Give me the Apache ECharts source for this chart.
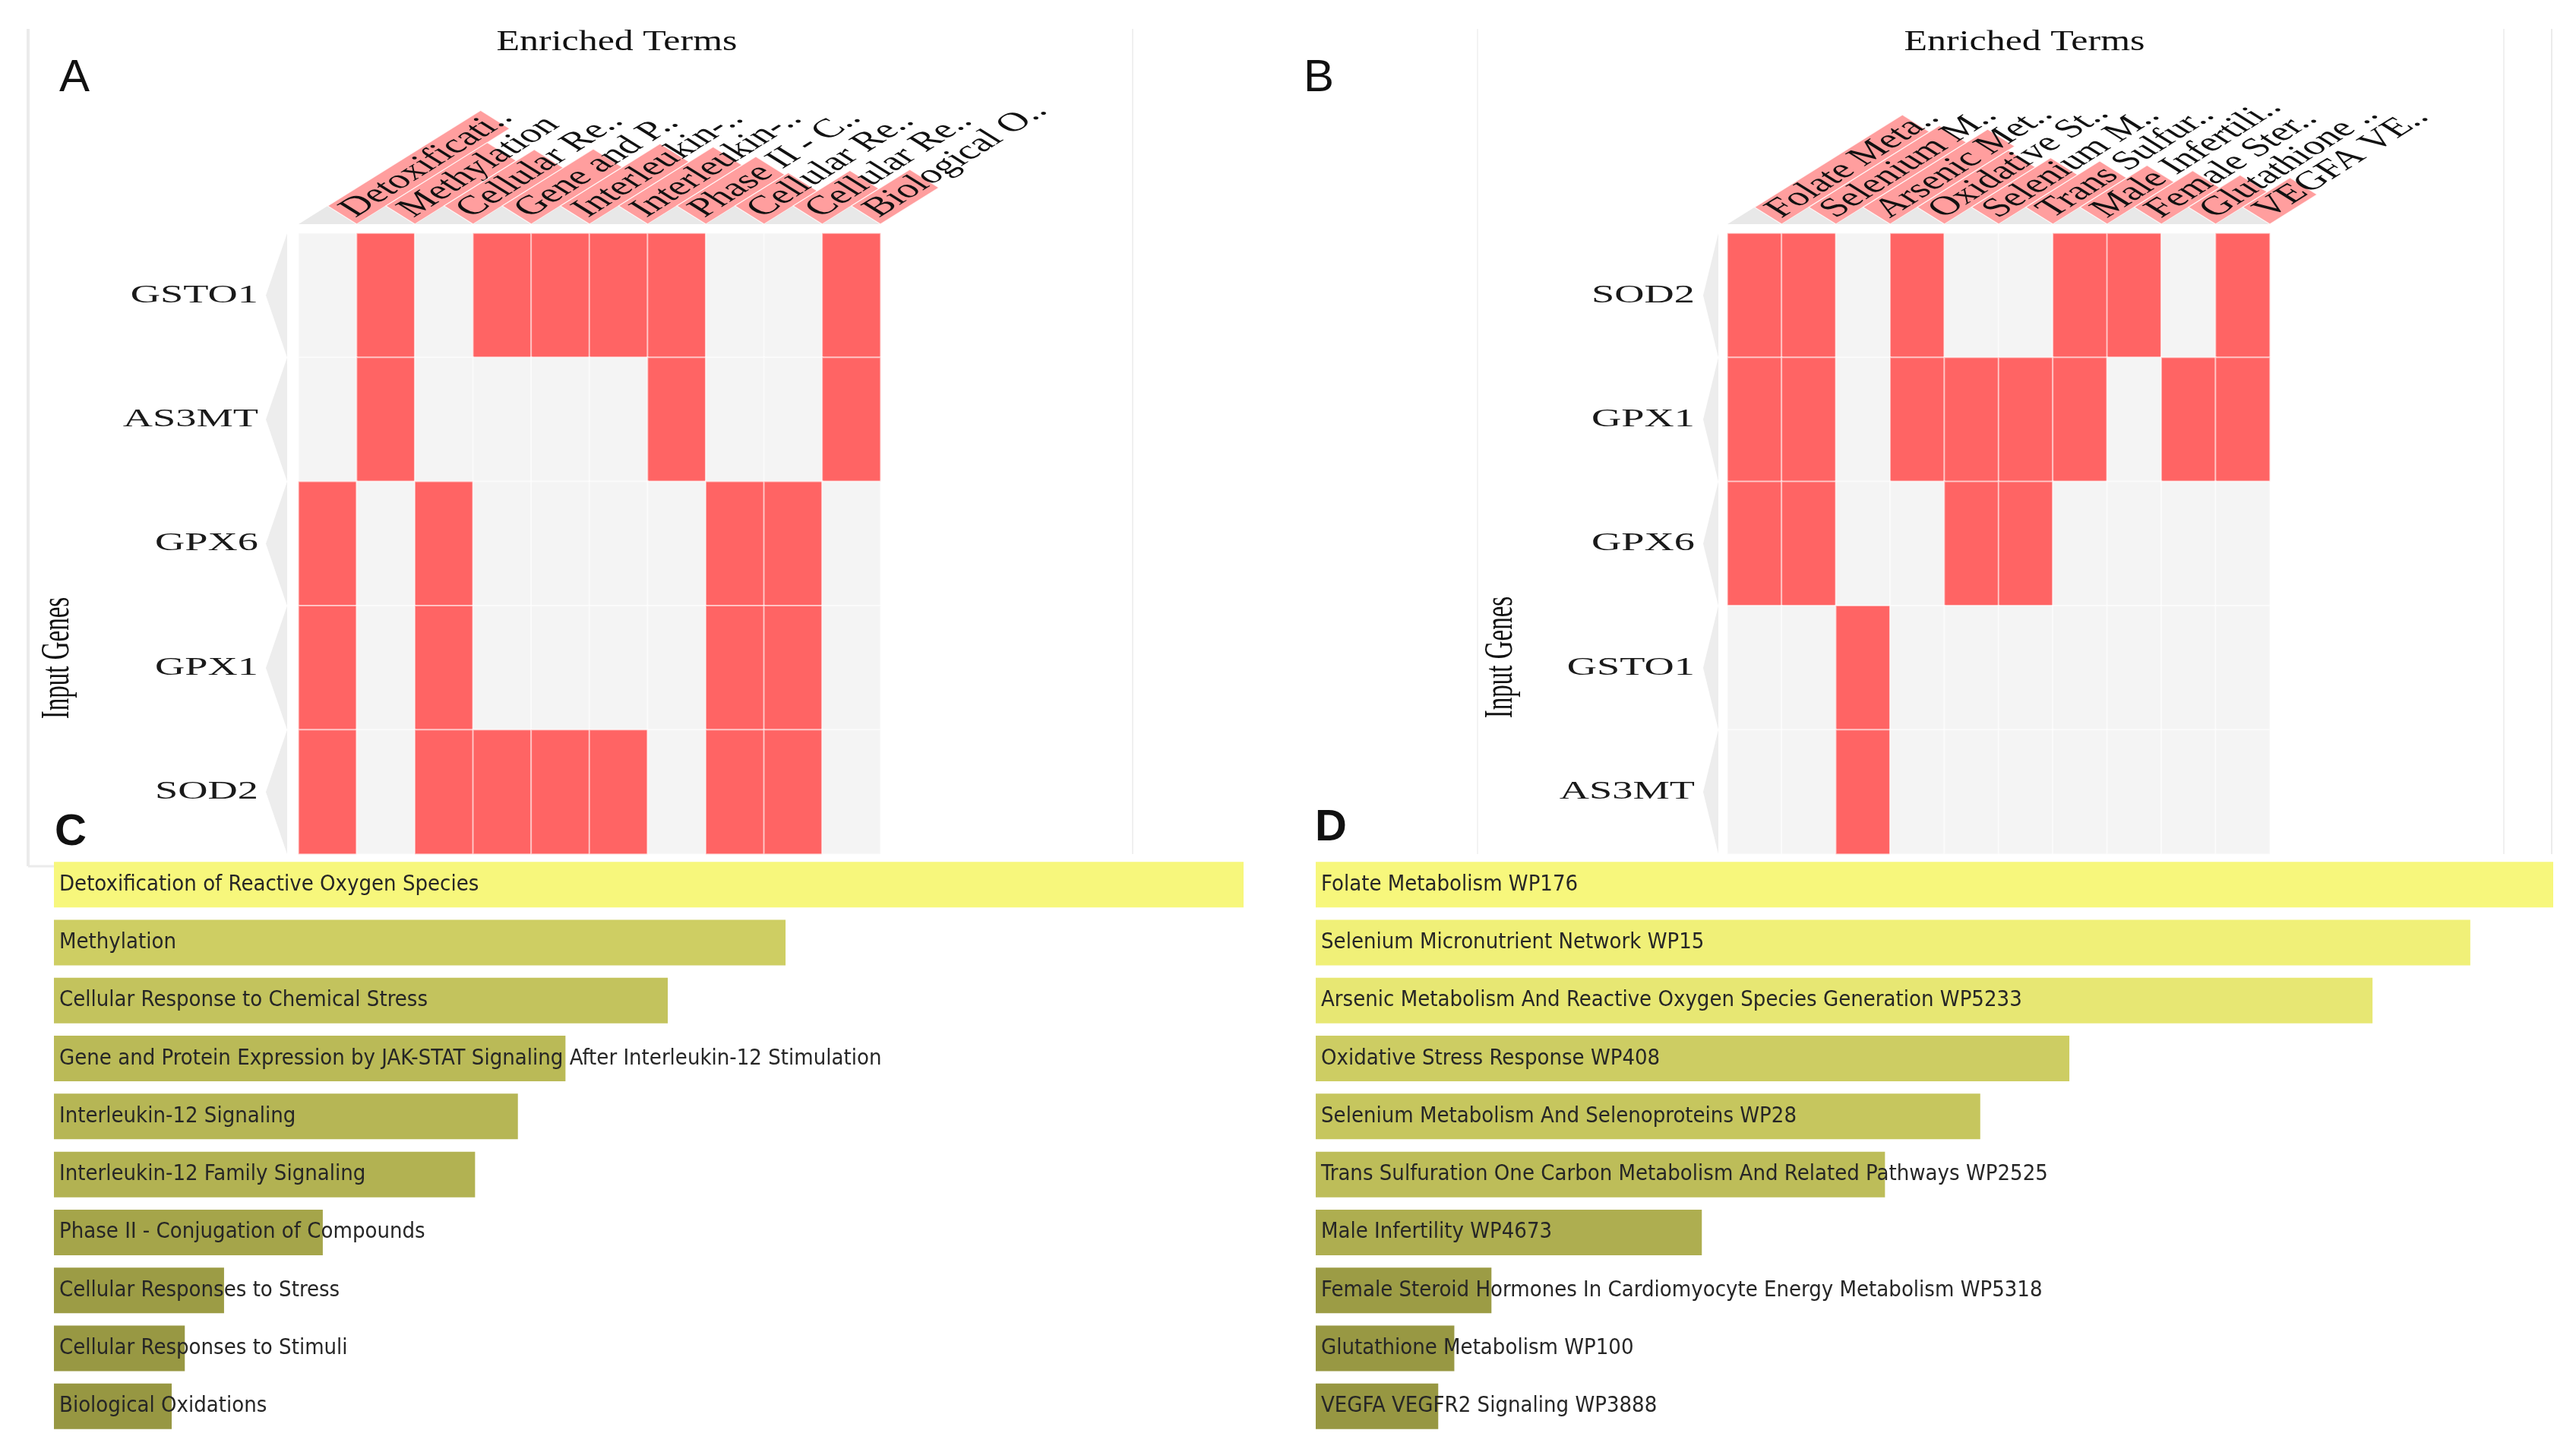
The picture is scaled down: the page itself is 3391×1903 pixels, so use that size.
<!DOCTYPE html>
<html><head><meta charset="utf-8">
<script src="https://cdn.jsdelivr.net/npm/echarts@6/dist/echarts.min.js"></script>
<style>html,body{margin:0;padding:0;background:#fff}#c{width:3391px;height:1903px}</style>
</head><body><div id="c"></div><script>
// ---------- data ----------
const genesA = ['GSTO1', 'AS3MT', 'GPX6', 'GPX1', 'SOD2'];
const termsA = ['Detoxification of Reactive Oxygen Species', 'Methylation', 'Cellular Response to Chemical Stress',
  'Gene and Protein Expression by JAK-STAT Signaling After Interleukin-12 Stimulation', 'Interleukin-12 Signaling',
  'Interleukin-12 Family Signaling', 'Phase II - Conjugation of Compounds', 'Cellular Responses to Stress',
  'Cellular Responses to Stimuli', 'Biological Oxidations'];
const headA = ['Detoxificati..', 'Methylation', 'Cellular Re..', 'Gene and P..', 'Interleukin-..', 'Interleukin-..',
  'Phase II - C..', 'Cellular Re..', 'Cellular Re..', 'Biological O..'];
const hitsA = [
  [0, 1, 0, 1, 1, 1, 1, 0, 0, 1],
  [0, 1, 0, 0, 0, 0, 1, 0, 0, 1],
  [1, 0, 1, 0, 0, 0, 0, 1, 1, 0],
  [1, 0, 1, 0, 0, 0, 0, 1, 1, 0],
  [1, 0, 1, 1, 1, 1, 0, 1, 1, 0]
];
const headScoreA = [178, 118, 105, 106, 116, 110, 92, 62, 66, 68];
const scoresC = [100, 61.5, 51.6, 43.0, 39.0, 35.4, 22.6, 14.3, 11.0, 9.9];

const genesB = ['SOD2', 'GPX1', 'GPX6', 'GSTO1', 'AS3MT'];
const termsB = ['Folate Metabolism WP176', 'Selenium Micronutrient Network WP15',
  'Arsenic Metabolism And Reactive Oxygen Species Generation WP5233', 'Oxidative Stress Response WP408',
  'Selenium Metabolism And Selenoproteins WP28', 'Trans Sulfuration One Carbon Metabolism And Related Pathways WP2525',
  'Male Infertility WP4673', 'Female Steroid Hormones In Cardiomyocyte Energy Metabolism WP5318',
  'Glutathione Metabolism WP100', 'VEGFA VEGFR2 Signaling WP3888'];
const headB = ['Folate Meta..', 'Selenium M..', 'Arsenic Met..', 'Oxidative St..', 'Selenium M..', 'Trans Sulfur..',
  'Male Infertili..', 'Female Ster..', 'Glutathione ..', 'VEGFA VE..'];
const hitsB = [
  [1, 1, 0, 1, 0, 0, 1, 1, 0, 1],
  [1, 1, 0, 1, 1, 1, 1, 0, 1, 1],
  [1, 1, 0, 0, 1, 1, 0, 0, 0, 0],
  [0, 0, 1, 0, 0, 0, 0, 0, 0, 0],
  [0, 0, 1, 0, 0, 0, 0, 0, 0, 0]
];
const headScoreB = [172, 152, 145, 106, 92, 86, 78, 68, 60, 55];
const scoresD = [100, 93.3, 85.4, 60.9, 53.7, 46.0, 31.2, 14.2, 11.2, 9.9];

// ---------- helpers ----------
const S = 1.6;               // horizontal stretch of the heatmap typesetting
const SERIF = '"Liberation Serif", "Times New Roman", serif';
const NARROW = '"Liberation Sans Narrow", "DejaVu Sans Condensed", sans-serif';

function cells(hits) {
  const out = [];
  hits.forEach((row, j) => row.forEach((v, i) => out.push([i, j, v])));
  return out;
}

function headerItem(labels) {
  return function (params, api) {
    const i = api.value(0);
    const c = api.coord([i, 0]);
    const sz = api.size([1, 1]);
    const w = sz[0], h = sz[1];
    const left = c[0] - w / 2;
    const base = c[1] - h / 2 - 12;
    const w0 = w / S;
    const t = w0 / Math.SQRT2;
    const L = api.value(2);
    return {
      type: 'group', x: left, y: base, scaleX: S, children: [
        { type: 'polygon', shape: { points: [[0, 0], [w0, 0], [w0 / 2, -w0 / 2]] }, style: { fill: '#e8e8e8' } },
        { type: 'group', x: w0 / 2, y: -w0 / 2, rotation: Math.PI / 4, children: [
          { type: 'rect', shape: { x: 0, y: 0, width: L, height: t },
            style: { fill: '#ff9e9e', stroke: 'rgba(255,255,255,0.8)', lineWidth: 1 } },
          { type: 'text', x: 5, y: t / 2 + 1,
            style: { text: labels[i], font: '35px ' + SERIF, fill: '#111',
              align: 'left', verticalAlign: 'middle', textAlign: 'left', textVerticalAlign: 'middle' } }
        ] }
      ]
    };
  };
}

function rowItem(genes, gap, triW, labGap) {
  return function (params, api) {
    const j = api.value(1);
    const c = api.coord([0, j]);
    const sz = api.size([1, 1]);
    const w = sz[0], h = sz[1];
    const left = c[0] - w / 2;
    const top = c[1] - h / 2, bot = c[1] + h / 2;
    const bx = left - gap;
    return {
      type: 'group', children: [
        { type: 'polygon', shape: { points: [[bx, top], [bx, bot], [bx - triW, c[1]]] }, style: { fill: '#ededed' } },
        { type: 'text', x: left - labGap, y: c[1], scaleX: S,
          style: { text: genes[j], font: '34px ' + SERIF, fill: '#1a1a1a',
            align: 'right', verticalAlign: 'middle', textAlign: 'right', textVerticalAlign: 'middle' } }
      ]
    };
  };
}

function gtext(text, x, y, font, opts) {
  return Object.assign({ type: 'text', x: x, y: y, silent: true,
    style: { text: text, font: font, fill: '#111', align: 'center', verticalAlign: 'middle',
      textAlign: 'center', textVerticalAlign: 'middle' } }, opts || {});
}
function gline(x1, y1, x2, y2, color, w) {
  return { type: 'line', silent: true, shape: { x1: x1, y1: y1, x2: x2, y2: y2 },
    style: { stroke: color, lineWidth: w } };
}

const chart = echarts.init(document.getElementById('c'), null, { renderer: 'canvas' });
const option = {
  backgroundColor: '#ffffff',
  animation: false,
  grid: [
    { left: 393, top: 307, width: 766, height: 817 },
    { left: 2274, top: 307, width: 714, height: 817 },
    { left: 71, top: 1126, width: 1566, height: 763 },
    { left: 1732, top: 1126, width: 1629, height: 763 }
  ],
  xAxis: [
    { type: 'category', gridIndex: 0, data: termsA, show: false },
    { type: 'category', gridIndex: 1, data: termsB, show: false },
    { type: 'value', gridIndex: 2, min: 0, max: 100, show: false },
    { type: 'value', gridIndex: 3, min: 0, max: 100, show: false }
  ],
  yAxis: [
    { type: 'category', gridIndex: 0, data: genesA, inverse: true, show: false },
    { type: 'category', gridIndex: 1, data: genesB, inverse: true, show: false },
    { type: 'category', gridIndex: 2, data: termsA, inverse: true, show: false },
    { type: 'category', gridIndex: 3, data: termsB, inverse: true, show: false }
  ],
  visualMap: [
    { type: 'piecewise', show: false, seriesIndex: [0, 1], dimension: 2,
      pieces: [{ value: 0, color: '#f4f4f4' }, { value: 1, color: '#ff6464' }] },
    { type: 'continuous', show: false, seriesIndex: 6, dimension: 0,
      min: Math.min.apply(null, scoresC), max: Math.max.apply(null, scoresC), inRange: { color: ['#979742', '#f7f77c'] } },
    { type: 'continuous', show: false, seriesIndex: 7, dimension: 0,
      min: Math.min.apply(null, scoresD), max: Math.max.apply(null, scoresD), inRange: { color: ['#979742', '#f7f77c'] } }
  ],
  series: [
    { type: 'heatmap', xAxisIndex: 0, yAxisIndex: 0, data: cells(hitsA),
      itemStyle: { borderColor: 'rgba(255,255,255,0.55)', borderWidth: 2 }, emphasis: { disabled: true } },
    { type: 'heatmap', xAxisIndex: 1, yAxisIndex: 1, data: cells(hitsB),
      itemStyle: { borderColor: 'rgba(255,255,255,0.55)', borderWidth: 2 }, emphasis: { disabled: true } },
    { type: 'custom', xAxisIndex: 0, yAxisIndex: 0, silent: true, z: 5,
      data: headScoreA.map((v, i) => [i, 0, v]), encode: { x: 0, y: 1 }, renderItem: headerItem(headA) },
    { type: 'custom', xAxisIndex: 1, yAxisIndex: 1, silent: true, z: 5,
      data: headScoreB.map((v, i) => [i, 0, v]), encode: { x: 0, y: 1 }, renderItem: headerItem(headB) },
    { type: 'custom', xAxisIndex: 0, yAxisIndex: 0, silent: true, z: 5,
      data: genesA.map((g, j) => [0, j]), encode: { x: 0, y: 1 }, renderItem: rowItem(genesA, 15, 28, 53) },
    { type: 'custom', xAxisIndex: 1, yAxisIndex: 1, silent: true, z: 5,
      data: genesB.map((g, j) => [0, j]), encode: { x: 0, y: 1 }, renderItem: rowItem(genesB, 12, 20, 43) },
    { type: 'bar', xAxisIndex: 2, yAxisIndex: 2, barWidth: 60, data: scoresC.map((v, i) => [v, i]),
      label: { show: true, position: 'insideLeft', distance: 7, formatter: p => termsA[p.dataIndex],
        color: '#262626', fontSize: 29, fontFamily: NARROW } },
    { type: 'bar', xAxisIndex: 3, yAxisIndex: 3, barWidth: 60, data: scoresD.map((v, i) => [v, i]),
      label: { show: true, position: 'insideLeft', distance: 7, formatter: p => termsB[p.dataIndex],
        color: '#262626', fontSize: 29, fontFamily: NARROW } }
  ],
  graphic: { elements: [
    gline(37, 38, 37, 1140, '#ebebeb', 4),
    gline(37, 1140, 71, 1140, '#ebebeb', 3),
    gline(1491, 38, 1491, 1124, '#f0f0f0', 2),
    gline(1945, 38, 1945, 1124, '#f3f3f3', 2),
    gline(3296, 38, 3296, 1124, '#f0f0f0', 2),
    gline(3359, 38, 3359, 1124, '#ebebeb', 2),
    gtext('Enriched Terms', 812, 56, '37px ' + SERIF, { scaleX: 1.35 }),
    gtext('Enriched Terms', 2665, 56, '37px ' + SERIF, { scaleX: 1.35 }),
    gtext('Input Genes', 76, 866, '33px ' + SERIF, { rotation: Math.PI / 2, scaleY: S }),
    gtext('Input Genes', 1976, 865, '33px ' + SERIF, { rotation: Math.PI / 2, scaleY: S }),
    gtext('A', 98, 103, '60px "Liberation Sans", Arial, sans-serif'),
    gtext('B', 1736, 103, '60px "Liberation Sans", Arial, sans-serif'),
    gtext('C', 93, 1096, 'bold 58px "Liberation Sans", Arial, sans-serif'),
    gtext('D', 1752, 1090, 'bold 58px "Liberation Sans", Arial, sans-serif')
  ] }
};
chart.setOption(option);
</script></body></html>
